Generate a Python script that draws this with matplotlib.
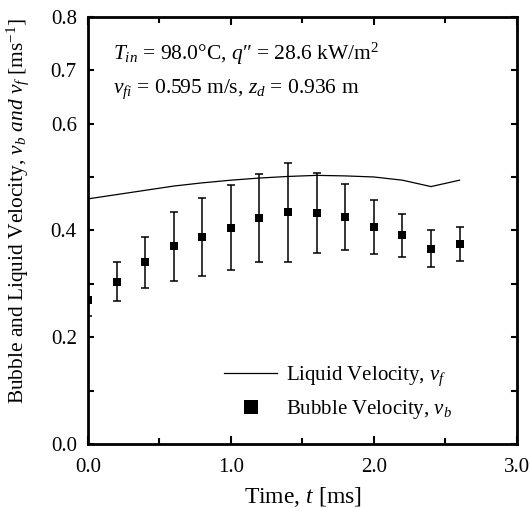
import numpy as np
import matplotlib
matplotlib.use('Agg')
from matplotlib import pyplot as plt
from matplotlib.lines import Line2D
from matplotlib.ticker import MultipleLocator

plt.rcParams['font.family'] = ['Liberation Serif', 'DejaVu Serif']
plt.rcParams['mathtext.fontset'] = 'custom'
plt.rcParams['mathtext.rm'] = 'Liberation Serif'
plt.rcParams['mathtext.it'] = 'Liberation Serif:italic'

# bubble velocity with error bars
t_b = [0.0, 0.2, 0.4, 0.6, 0.8, 1.0, 1.2, 1.4, 1.6, 1.8, 2.0, 2.2, 2.4, 2.6]
v_b = [0.270, 0.304, 0.340, 0.370, 0.388, 0.405, 0.423, 0.434, 0.433, 0.425, 0.406, 0.391, 0.366, 0.375]
v_b_err = [0.030, 0.036, 0.048, 0.064, 0.073, 0.080, 0.082, 0.093, 0.075, 0.062, 0.050, 0.040, 0.035, 0.032]

# liquid velocity
t_f = [0.0, 0.2, 0.4, 0.6, 0.8, 1.0, 1.2, 1.4, 1.6, 1.8, 2.0, 2.2, 2.4, 2.6]
v_f = [0.459, 0.467, 0.475, 0.483, 0.489, 0.494, 0.498, 0.501, 0.503, 0.502, 0.500, 0.494, 0.482, 0.494]

yticks = [0.0, 0.1, 0.2, 0.3, 0.4, 0.5, 0.6, 0.7, 0.8]
ytick_labels = ['0.0', '', '0.2', '', '0.4', '', '0.6', '0.7', '0.8']
xticks = [0.0, 1.0, 2.0, 3.0]
xtick_labels = ['0.0', '1.0', '2.0', '3.0']

fig = plt.figure(figsize=(5.3, 5.08), dpi=100)
ax = fig.add_axes([0.166, 0.126, 0.809, 0.841])

ax.plot(t_f, v_f, color='black', lw=0.9, label=r'Liquid Velocity, $v_f$')
ax.errorbar(t_b, v_b, yerr=v_b_err, fmt='none', ecolor='black',
            elinewidth=1.1, capsize=3, capthick=1.1)
ax.plot(t_b, v_b, 's', color='black', ms=6, mew=0, label=r'Bubble Velocity, $v_b$')

ax.set_xlim(0, 3.0)
ax.set_ylim(0, 0.8)
ax.set_xticks(xticks)
ax.set_xticklabels(xtick_labels)
ax.xaxis.set_minor_locator(MultipleLocator(0.5))
ax.set_yticks(yticks)
ax.set_yticklabels(ytick_labels)
ax.tick_params(axis='both', which='major', direction='in', top=True, right=True,
               width=1.5, labelsize=15)
ax.tick_params(axis='x', which='major', length=6, pad=10)
ax.tick_params(axis='y', which='major', length=4.5, pad=8)
ax.tick_params(axis='x', which='minor', direction='in', top=True, length=4, width=1.5)
for s in ax.spines.values():
    s.set_linewidth(2)

ax.set_xlabel(r'Time, $t$ [ms]', fontsize=17, labelpad=6)
ax.set_ylabel(r'Bubble and Liquid Velocity, $v_b$ $and$ $v_f$ [ms$^{-1}$]',
              fontsize=15.4)
ax.yaxis.set_label_coords(-0.132, 0.546)

ax.text(0.058, 0.899, r'$T_{in}$ = 98.0°C, $q$″ = 28.6 kW/m$^2$',
        transform=ax.transAxes, fontsize=15.5, va='baseline')
ax.text(0.058, 0.822, r'$v_{fi}$ = 0.595 m/s, $z_d$ = 0.936 m',
        transform=ax.transAxes, fontsize=15.5, va='baseline')

handles, labels = ax.get_legend_handles_labels()
h2 = Line2D([], [], marker='s', ls='none', color='black', ms=9.5, mew=0)
ax.legend([handles[0], h2], labels, loc='upper left', bbox_to_anchor=(0.317, 0.185),
          frameon=False, fontsize=15, handlelength=2.57, handletextpad=0.43,
          labelspacing=0.45, borderpad=0, borderaxespad=0)

fig.savefig('out.png', dpi=100)
